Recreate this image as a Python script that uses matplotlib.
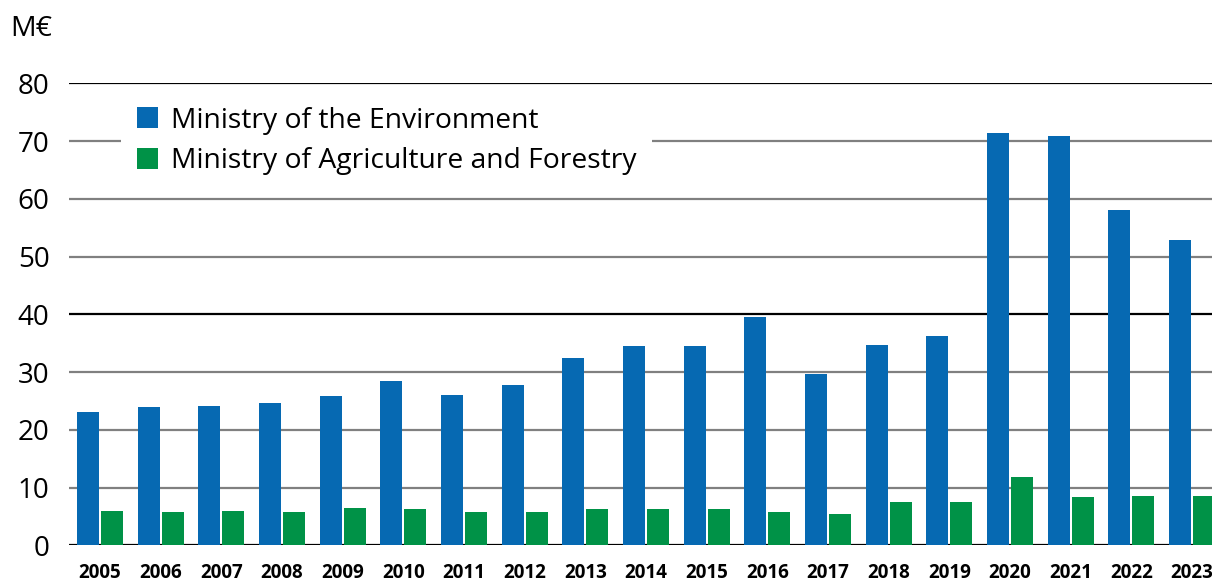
import numpy as np
import matplotlib
matplotlib.use('Agg')
import matplotlib.pyplot as plt

# Values (M€)
years = ['2005', '2006', '2007', '2008', '2009', '2010', '2011', '2012', '2013',
         '2014', '2015', '2016', '2017', '2018', '2019', '2020', '2021', '2022', '2023']
environment = [23.1, 23.9, 24.1, 24.6, 25.8, 28.4, 26.0, 27.7, 32.4,
               34.5, 34.5, 39.5, 29.6, 34.6, 36.2, 71.4, 70.9, 58.0, 52.8]
agriculture = [5.9, 5.8, 5.9, 5.8, 6.4, 6.3, 5.8, 5.8, 6.3,
               6.3, 6.3, 5.8, 5.5, 7.5, 7.5, 11.8, 8.4, 8.5, 8.5]
labels = ['Ministry of the Environment', 'Ministry of Agriculture and Forestry']
y_ticks = [0, 10, 20, 30, 40, 50, 60, 70, 80]

plt.rcParams['font.family'] = ['Open Sans', 'DejaVu Sans']

W, H = 1212, 581
fig = plt.figure(figsize=(W / 100, H / 100), dpi=100)
ax = fig.add_axes([69 / W, 1 - 545.3 / H, 1 - 69 / W, (545.3 - 83.3) / H])

x = np.arange(len(years))
bw = 22 / 60.67
gap = 2 / 60.67
ax.bar(x - bw / 2 - gap / 2, environment, width=bw, color='#0669b2', label=labels[0], zorder=3)
ax.bar(x + bw / 2 + gap / 2, agriculture, width=bw, color='#009247', label=labels[1], zorder=3)

# horizontal grid lines: black at 0, 40, 80 and grey otherwise
for v in y_ticks:
    col = '#000000' if v % 40 == 0 else '#808080'
    ax.axhline(v, color=col, lw=1.6, zorder=1)

ax.set_xlim(-0.511, 18.33)
ax.set_ylim(0, 80)
ax.set_yticks(y_ticks)
ax.set_yticklabels([str(v) for v in y_ticks], fontsize=20)
ax.set_xticks(x)
ax.set_xticklabels(years, fontsize=13.5, fontweight='bold')
ax.tick_params(axis='y', length=0, pad=14)
ax.tick_params(axis='x', length=0, pad=13)
for s in ax.spines.values():
    s.set_visible(False)

leg = ax.legend(loc='upper left', bbox_to_anchor=(52 / (W - 69), 0.983), fontsize=20.3,
                frameon=True, facecolor='white', edgecolor='none', framealpha=1,
                fancybox=False, handlelength=0.78, handleheight=0.78,
                handletextpad=0.45, labelspacing=0.44, borderpad=0.55,
                borderaxespad=0)
leg.set_zorder(5)

fig.text(10 / W, 1 - 29 / H, 'M€', fontsize=20.5, va='center', ha='left')

fig.savefig('out.png', dpi=100)
